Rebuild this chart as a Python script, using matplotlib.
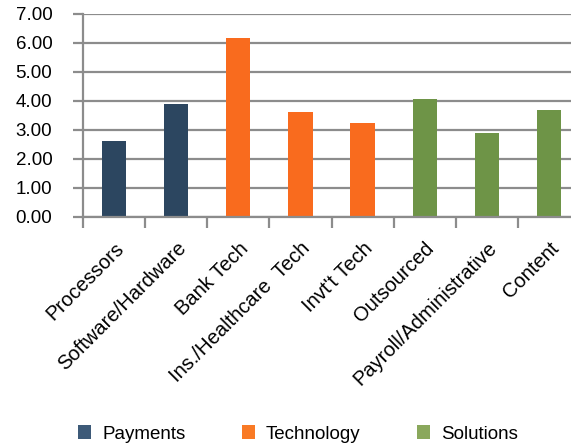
import matplotlib.pyplot as plt
from matplotlib.patches import Patch
import numpy as np

plt.rcParams['font.family'] = ['Liberation Sans', 'DejaVu Sans']

categories = ['Processors', 'Software/Hardware', 'Bank Tech', 'Ins./Healthcare  Tech',
              "Invt't Tech", 'Outsourced', 'Payroll/Administrative', 'Content']
values = [2.60, 3.88, 6.15, 3.60, 3.22, 4.05, 2.88, 3.67]
groups = ['Payments', 'Payments', 'Technology', 'Technology', 'Technology',
          'Solutions', 'Solutions', 'Solutions']
group_names = ['Payments', 'Technology', 'Solutions']
bar_colors = {'Payments': '#2c4660', 'Technology': '#f96b1e', 'Solutions': '#6e9447'}
legend_colors = {'Payments': '#3d5a78', 'Technology': '#f97a25', 'Solutions': '#8aa85c'}

grid_col = '#8c8c8c'

fig = plt.figure(figsize=(5.71, 4.46), dpi=100)
ax = fig.add_axes([83 / 571, (446 - 216.5) / 446, 497 / 571, 203 / 446])

x = np.arange(len(categories))
ax.bar(x, values, width=0.39, color=[bar_colors[g] for g in groups], zorder=3)

ax.set_xlim(-0.5, len(categories) - 0.5)
ax.set_ylim(0, 7)
ax.set_yticks(np.arange(0, 7.01, 1))
ax.set_yticklabels([f'{v:.2f}' for v in np.arange(0, 7.01, 1)], fontsize=13.5)
ax.yaxis.grid(True, color=grid_col, linewidth=1.6, zorder=0)

# category boundaries as ticks, labels at centres
ax.set_xticks(np.arange(-0.5, len(categories), 1), minor=False)
ax.set_xticklabels([])
ax.set_xticks(x, minor=True)
ax.set_xticklabels(categories, minor=True, rotation=45, ha='right', va='top',
                   rotation_mode='anchor', fontsize=14.5)
ax.tick_params(axis='x', which='minor', length=0, pad=16)
ax.tick_params(axis='x', which='major', length=8, width=1.6, color=grid_col)
ax.tick_params(axis='y', length=7, width=1.6, color=grid_col, pad=15)

for s in ['top', 'right']:
    ax.spines[s].set_visible(False)
for s in ['left', 'bottom']:
    ax.spines[s].set_color(grid_col)
    ax.spines[s].set_linewidth(1.6)
    ax.spines[s].set_zorder(4)

handles = [Patch(facecolor=legend_colors[g], label=g) for g in group_names]
fig.legend(handles=handles, loc='center', bbox_to_anchor=(298 / 571, 1 - 434 / 446),
           ncol=3, frameon=False, fontsize=13.5, handlelength=0.7, handleheight=0.7,
           handletextpad=0.6, columnspacing=3.0)

fig.savefig('out.png', dpi=100)
